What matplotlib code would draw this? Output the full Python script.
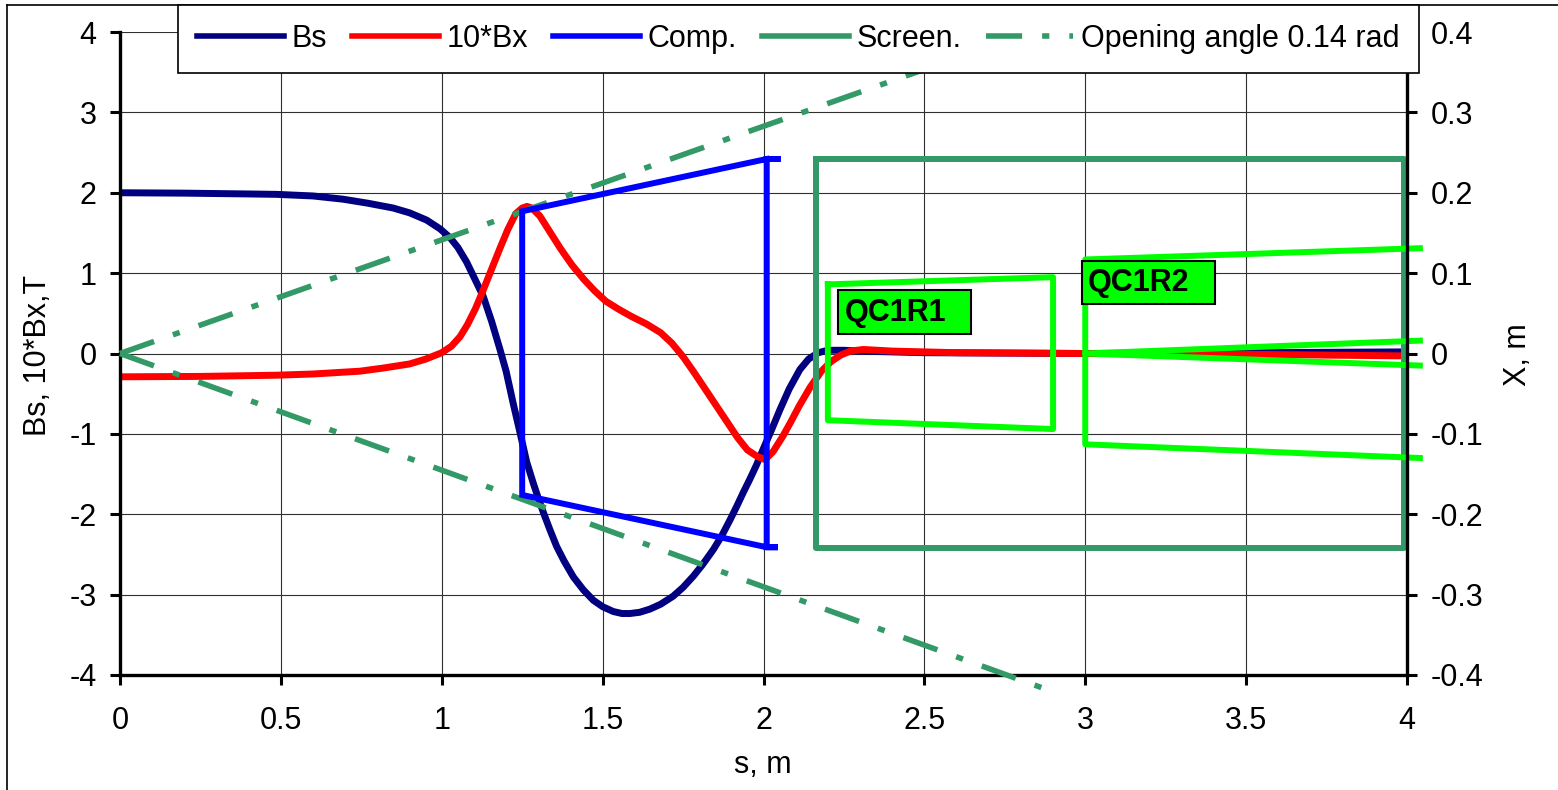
import numpy as np
import matplotlib.pyplot as plt
from matplotlib.lines import Line2D
from matplotlib.patches import Rectangle

plt.rcParams['font.family'] = ['Liberation Sans', 'DejaVu Sans']
plt.rcParams['axes.unicode_minus'] = False

# ---- data ----
# Bs along s (left axis, T)
s_bs = [0.0, 0.2, 0.4, 0.487, 0.6, 0.693, 0.77, 0.849, 0.90, 0.953, 0.995,
        1.026, 1.05, 1.077, 1.10, 1.129, 1.155, 1.181, 1.20, 1.222, 1.243,
        1.264, 1.285, 1.30, 1.316, 1.335, 1.357, 1.38, 1.409, 1.44, 1.471,
        1.50, 1.533, 1.56, 1.585, 1.615, 1.647, 1.68, 1.719, 1.75, 1.782,
        1.81, 1.844, 1.87, 1.896, 1.917, 1.937, 1.958, 1.979, 1.999, 2.025,
        2.051, 2.08, 2.113, 2.14, 2.17, 2.20, 2.25, 2.30, 2.50, 3.00, 3.50,
        4.00]
bs = [2.00, 1.995, 1.985, 1.98, 1.96, 1.92, 1.87, 1.81, 1.75, 1.66, 1.55,
      1.44, 1.32, 1.14, 0.95, 0.71, 0.40, 0.05, -0.22, -0.62, -0.98, -1.35,
      -1.62, -1.80, -1.98, -2.18, -2.40, -2.58, -2.78, -2.94, -3.07, -3.15,
      -3.21, -3.235, -3.235, -3.22, -3.18, -3.12, -3.02, -2.91, -2.77,
      -2.63, -2.44, -2.27, -2.07, -1.90, -1.73, -1.56, -1.38, -1.19, -0.95,
      -0.70, -0.44, -0.20, -0.07, 0.01, 0.04, 0.04, 0.03, 0.01, 0.0, 0.01,
      0.02]

# 10*Bx along s (left axis, T)
s_bx = [0.0, 0.25, 0.487, 0.6, 0.746, 0.82, 0.9, 0.95, 1.0, 1.03, 1.057,
        1.08, 1.105, 1.13, 1.155, 1.18, 1.205, 1.23, 1.25, 1.265, 1.28,
        1.305, 1.335, 1.37, 1.405, 1.44, 1.475, 1.51, 1.55, 1.59, 1.635,
        1.68, 1.715, 1.75, 1.785, 1.82, 1.855, 1.89, 1.92, 1.95, 1.98,
        2.005, 2.03, 2.06, 2.085, 2.11, 2.145, 2.18, 2.21, 2.24, 2.27, 2.31,
        2.40, 2.60, 3.00, 3.50, 4.00]
bx10 = [-0.29, -0.285, -0.27, -0.255, -0.22, -0.18, -0.13, -0.07, 0.01,
        0.09, 0.21, 0.36, 0.56, 0.80, 1.05, 1.30, 1.54, 1.74, 1.81, 1.83,
        1.81, 1.71, 1.52, 1.30, 1.10, 0.93, 0.78, 0.65, 0.55, 0.46, 0.37,
        0.26, 0.13, -0.04, -0.24, -0.45, -0.66, -0.87, -1.05, -1.20, -1.28,
        -1.32, -1.22, -1.03, -0.85, -0.66, -0.42, -0.22, -0.10, -0.02, 0.03,
        0.05, 0.03, 0.01, 0.0, -0.01, -0.03]

# right axis (X, m)
comp_s = [2.045, 2.01, 2.01, 2.045, 2.01, 1.25, 1.25, 2.01]
comp_x = [0.242, 0.242, -0.241, -0.241, -0.241, -0.176, 0.177, 0.242]

screen_s = [2.163, 3.99, 3.99, 2.163, 2.163]
screen_x = [0.242, 0.242, -0.242, -0.242, 0.242]

open_up_s = [0.0, 2.9]
open_up_x = [0.0, 0.41]
open_lo_s = [0.0, 2.88]
open_lo_x = [0.0, -0.418]

qc1r1_s = [2.2, 2.9, 2.9, 2.2, 2.2]
qc1r1_x = [0.086, 0.095, -0.094, -0.083, 0.086]

qc1r2_s = [4.04, 3.0, 3.0, 4.04]
qc1r2_x = [0.131, 0.117, -0.113, -0.130]
qc1r2_mid_s = [4.04, 3.0, 4.04]
qc1r2_mid_x = [0.016, 0.0, -0.015]

labels = ['Bs', '10*Bx', 'Comp.', 'Screen.', 'Opening angle 0.14 rad']

NAVY = '#000080'
RED = '#FF0000'
BLUE = '#0000FF'
SEA = '#339966'
LIME = '#00FF00'
FS = 22
DASHDOT = (6.5, 3.6, 1.3, 3.6)

W, H = 1558, 790
fig = plt.figure(figsize=(W / 100, H / 100), dpi=100)
ax = fig.add_axes([120 / W, 1 - 675 / H, (1407 - 120) / W, (675 - 32) / H])
ax2 = ax.twinx()

ax.set_xlim(0, 4)
ax.set_ylim(-4, 4)
ax2.set_ylim(-0.4, 0.4)
ax.set_xticks(np.arange(0, 4.01, 0.5))
ax.set_xticklabels(['0', '0.5', '1', '1.5', '2', '2.5', '3', '3.5', '4'])
ax.set_yticks(range(-4, 5))
ax2.set_yticks(np.arange(-0.4, 0.41, 0.1))
ax2.set_yticklabels(['-0.4', '-0.3', '-0.2', '-0.1', '0', '0.1', '0.2', '0.3', '0.4'])

ax.grid(True, color='#303030', lw=0.8)
ax.set_axisbelow(True)

for sp in ['top', 'right']:
    ax.spines[sp].set_visible(False)
for sp in ['top', 'left', 'bottom']:
    ax2.spines[sp].set_visible(False)
for sp in [ax.spines['left'], ax.spines['bottom'], ax2.spines['right']]:
    sp.set_linewidth(2.4)
    sp.set_color('black')

ax.tick_params(axis='both', direction='out', length=7, width=2.2, labelsize=FS)
ax.tick_params(axis='y', pad=10)
ax.tick_params(axis='x', pad=15)
ax2.tick_params(axis='y', direction='out', length=7, width=2.2, labelsize=FS, pad=10)

# left axis curves
ax.plot(s_bs, bs, color=NAVY, lw=5, solid_joinstyle='round')
ax.plot(s_bx, bx10, color=RED, lw=5, solid_joinstyle='round')

# right axis geometry
ax2.plot(open_up_s, open_up_x, color=SEA, lw=4, dashes=DASHDOT,
         dash_capstyle='butt', clip_on=False)
ax2.plot(open_lo_s, open_lo_x, color=SEA, lw=4, dashes=DASHDOT,
         dash_capstyle='butt', clip_on=False)
ax2.plot(comp_s, comp_x, color=BLUE, lw=4.3, solid_joinstyle='miter')
ax2.plot(screen_s, screen_x, color=SEA, lw=4.3, solid_joinstyle='round')
ax2.plot(qc1r1_s, qc1r1_x, color=LIME, lw=4.3, solid_joinstyle='round')
ax2.plot(qc1r2_s, qc1r2_x, color=LIME, lw=4.3, solid_joinstyle='round', clip_on=False)
ax2.plot(qc1r2_mid_s, qc1r2_mid_x, color=LIME, lw=4.3, solid_joinstyle='round', clip_on=False)

# magnet name boxes
ax2.add_patch(Rectangle((2.2315, 0.0237), 0.413, 0.0548, facecolor=LIME,
                        edgecolor='black', lw=1.5, zorder=5))
ax2.text(2.253, 0.051, 'QC1R1', fontsize=FS, fontweight='bold',
         ha='left', va='center', zorder=6)
ax2.add_patch(Rectangle((2.99, 0.061), 0.413, 0.0536, facecolor=LIME,
                        edgecolor='black', lw=1.5, zorder=5))
ax2.text(3.009, 0.0875, 'QC1R2', fontsize=FS, fontweight='bold',
         ha='left', va='center', zorder=6)

# axis titles
fig.text(38 / W, 1 - 355 / H, 'Bs, 10*Bx,T', rotation=90, fontsize=FS,
         ha='center', va='center')
fig.text(1518 / W, 1 - 355 / H, 'X, m', rotation=90, fontsize=FS,
         ha='center', va='center')
fig.text(763 / W, 1 - 765 / H, 's, m', fontsize=FS, ha='center', va='center')

# legend
handles = [
    Line2D([], [], color=NAVY, lw=4),
    Line2D([], [], color=RED, lw=4),
    Line2D([], [], color=BLUE, lw=4),
    Line2D([], [], color=SEA, lw=4),
    Line2D([], [], color=SEA, lw=4, dashes=DASHDOT, dash_capstyle='butt'),
]
leg = fig.legend(handles, labels, loc='upper left', ncol=5,
                 bbox_to_anchor=(178 / W, 1 - 5 / H), fontsize=FS,
                 frameon=True, fancybox=False, framealpha=1, edgecolor='black',
                 handlelength=2.85, handletextpad=0.26, columnspacing=0.8,
                 borderpad=0.62, borderaxespad=0)
leg.get_frame().set_linewidth(1.2)

# chart border (left and top edges)
fig.add_artist(Line2D([7 / W, 7 / W], [0, 1 - 5 / H], color='black', lw=1.2))
fig.add_artist(Line2D([7 / W, 1], [1 - 5 / H, 1 - 5 / H], color='black', lw=1.2))

fig.savefig('out.png', dpi=100)
